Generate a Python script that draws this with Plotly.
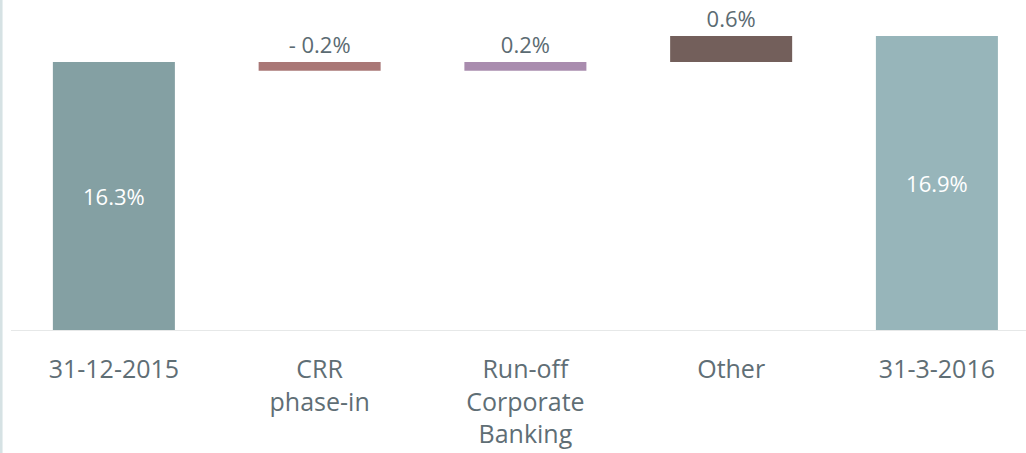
import plotly.graph_objects as go

# capital ratio bridge, Q4 2015 -> Q1 2016
categories = ["31-12-2015", "CRR<br>phase-in", "Run-off<br>Corporate<br>Banking", "Other", "31-3-2016"]
steps = [16.3, -0.2, 0.2, 0.6, 16.9]
is_total = [True, False, False, False, True]
colors = ["#84a0a3", "#a97776", "#a98cae", "#735f5b", "#97b5ba"]

Y_FLOOR = 10.115  # value axis does not start at zero

# bases / heights for a floating-bar waterfall
bases, heights, labels = [], [], []
level = 0
for v, tot in zip(steps, is_total):
    if tot:
        level = v
        bases.append(Y_FLOOR)
        heights.append(v - Y_FLOOR)
        labels.append(f"{v}%")
    else:
        start = level
        level = round(level + v, 2)
        bases.append(min(start, level))
        heights.append(abs(v))
        labels.append(f"- {abs(v)}%" if v < 0 else f"{v}%")

text_col = "#5b6b72"
fig = go.Figure()
for i in range(len(categories)):
    fig.add_trace(go.Bar(
        x=[i], y=[heights[i]], base=[bases[i]],
        marker=dict(color=colors[i], line=dict(width=0)),
        text=[labels[i]],
        textposition="inside" if is_total[i] else "outside",
        insidetextanchor="middle",
        textfont=dict(size=22, color="white" if is_total[i] else text_col),
        cliponaxis=False,
        hoverinfo="skip",
    ))

fig.update_layout(
    width=1026, height=453,
    margin=dict(l=11, r=0, t=0, b=123),
    paper_bgcolor="white", plot_bgcolor="white",
    font=dict(family="Open Sans", color=text_col, size=25),
    showlegend=False,
    bargap=0.407,
)
fig.update_xaxes(
    tickmode="array", tickvals=list(range(len(categories))), ticktext=categories,
    range=[-0.5, 4.433], showgrid=False, zeroline=False,
    showline=True, linecolor="#e6e8e8", linewidth=1,
    ticks="", ticklabelstandoff=17,
    tickfont=dict(size=25, color="#5f6e75"),
)
fig.update_yaxes(range=[Y_FLOOR, 17.73], visible=False, showgrid=False)

# thin border on the left edge of the slide
fig.add_shape(type="line", xref="paper", yref="paper",
              x0=-0.0098, x1=-0.0098, y0=-0.4, y1=1,
              line=dict(color="#d6e2e4", width=3))

fig.write_html("out.html", config={"displayModeBar": False},
               post_script="document.body.style.margin='0';")
